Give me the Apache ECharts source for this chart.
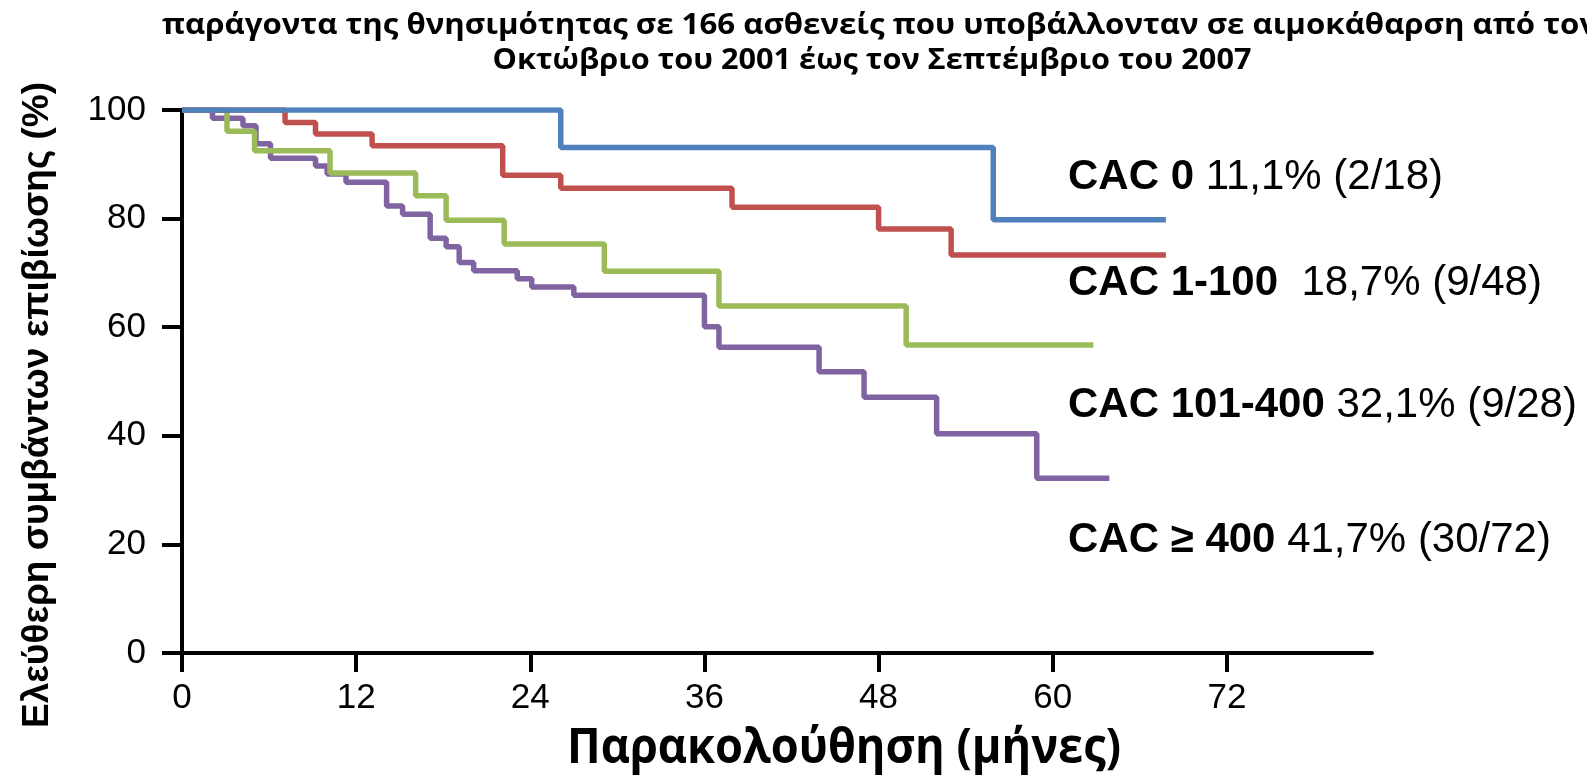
<!DOCTYPE html>
<html lang="el">
<head>
    <meta charset="UTF-8">
    <title>Επιβίωση ανά CAC</title>
    <script src="https://cdn.jsdelivr.net/npm/echarts@6/dist/echarts.min.js"></script>
    <style>
        *{
            margin: 0;
            padding: 0;
        }
        #chart{
            width: 1587px;
            height: 775px;
            background: #fff;
        }
    </style>
</head>
<body>
    <div id="chart"></div>
<script>
    // μήνες όπου πέφτει η καμπύλη (τελευταίο = τέλος παρακολούθησης) και επιβίωση % μετά την πτώση
    var cac0Months = [0, 26.1, 55.9, 67.8];
    var cac0Surv   = [100, 93.1, 79.8, 79.8];

    var cac1Months = [0, 7.1, 9.2, 13.1, 22.1, 26.1, 37.9, 48.0, 53.0, 67.8];
    var cac1Surv   = [100, 97.7, 95.6, 93.4, 88.0, 85.6, 82.1, 78.1, 73.3, 73.3];

    var cac2Months = [0, 3.1, 5.0, 10.2, 16.1, 18.2, 22.2, 29.1, 37.0, 49.9, 62.8];
    var cac2Surv   = [100, 96.1, 92.5, 88.4, 84.2, 79.7, 75.3, 70.3, 63.9, 56.7, 56.7];

    var cac3Months = [0, 2.1, 4.2, 5.1, 6.1, 9.2, 10.0, 11.3, 14.1, 15.2, 17.1, 18.2, 19.1, 20.1,
                      23.1, 24.1, 27.0, 36.0, 37.0, 43.9, 47.0, 52.0, 58.9, 63.9];
    var cac3Surv   = [100, 98.5, 97.1, 93.8, 91.1, 89.7, 88.2, 86.7, 82.3, 80.8, 76.4, 74.8, 71.9, 70.4,
                      68.9, 67.4, 65.9, 60.1, 56.3, 51.8, 47.1, 40.4, 32.2, 32.2];

    var xTicks = [0, 12, 24, 36, 48, 60, 72];

    var groupNames = ['CAC 0', 'CAC 1-100 ', 'CAC 101-400', 'CAC ≥ 400'];
    var groupStats = ['11,1% (2/18)', '18,7% (9/48)', '32,1% (9/28)', '41,7% (30/72)'];

    var titleLines = [
        'παράγοντα της θνησιμότητας σε 166 ασθενείς που υποβάλλονταν σε αιμοκάθαρση από τον',
        'Οκτώβριο του 2001 έως τον Σεπτέμβριο του 2007'
    ];
    var xName = 'Παρακολούθηση (μήνες)';
    var yName = 'Ελεύθερη συμβάντων επιβίωσης (%)';

    function pairs(xs, ys) {
        return xs.map(function (x, i) { return [x, ys[i]]; });
    }

    // πλάτος κειμένου για να "στενέψει" η γραμματοσειρά όπως στο πρωτότυπο
    var measureCtx = document.createElement('canvas').getContext('2d');
    function fitScale(text, font, width) {
        measureCtx.font = font;
        return width / measureCtx.measureText(text).width;
    }

    var arial = '"Liberation Sans", Arial, sans-serif';
    var titleFont = 'bold 28px "Open Sans"';
    var title1Scale = fitScale(titleLines[0], titleFont, 1436);
    var title2Scale = fitScale(titleLines[1], titleFont, 759);
    var xNameFont = 'bold 48px "Open Sans"';
    var xNameScale = fitScale(xName, xNameFont, 554);

    var chart = echarts.init(document.getElementById('chart'));

    function kmSeries(name, data, color) {
        return {
            name: name,
            type: 'line',
            step: 'end',
            data: data,
            symbol: 'none',
            lineStyle: { color: color, width: 5.5 },
            silent: true
        };
    }

    var annotY = [177, 283, 405, 540];

    var graphics = [
        {
            type: 'text', x: 162, y: 26, scaleX: title1Scale,
            style: { text: titleLines[0], font: titleFont, fill: '#000', align: 'left', verticalAlign: 'middle' }
        },
        {
            type: 'text', x: 872, y: 61, scaleX: title2Scale,
            style: { text: titleLines[1], font: titleFont, fill: '#000', align: 'center', verticalAlign: 'middle' }
        },
        {
            type: 'text', x: 844, y: 749, scaleX: xNameScale,
            style: { text: xName, font: xNameFont, fill: '#000', align: 'center', verticalAlign: 'middle' }
        },
        {
            type: 'text', x: 38, y: 405, rotation: Math.PI / 2,
            style: { text: yName, font: 'bold 37px ' + arial, fill: '#000', align: 'center', verticalAlign: 'middle' }
        }
    ];
    groupNames.forEach(function (g, i) {
        graphics.push({
            type: 'text', x: 1068, y: annotY[i],
            style: {
                text: '{b|' + g + '} ' + groupStats[i],
                fontFamily: arial,
                fontSize: 42,
                fill: '#000',
                verticalAlign: 'middle',
                rich: { b: { fontWeight: 'bold', fontSize: 42, fontFamily: arial, fill: '#000' } }
            }
        });
    });

    var option = {
        animation: false,
        backgroundColor: '#fff',
        grid: { left: 182, right: 215, top: 110, bottom: 122, containLabel: false },
        xAxis: {
            type: 'value',
            min: 0,
            max: 82,
            interval: 12,
            splitLine: { show: false },
            axisLine: { lineStyle: { color: '#000', width: 4 } },
            axisTick: { customValues: xTicks, length: 19, lineStyle: { color: '#000', width: 4 } },
            axisLabel: { customValues: xTicks, margin: 28, color: '#000', fontSize: 35, fontFamily: arial }
        },
        yAxis: {
            type: 'value',
            min: 0,
            max: 100,
            interval: 20,
            splitLine: { show: false },
            axisLine: { show: true, lineStyle: { color: '#000', width: 4 } },
            axisTick: { show: true, length: 20, lineStyle: { color: '#000', width: 4 } },
            axisLabel: { margin: 36, color: '#000', fontSize: 35, fontFamily: arial }
        },
        series: [
            kmSeries('CAC ≥ 400', pairs(cac3Months, cac3Surv), '#8064A2'),
            kmSeries('CAC 101-400', pairs(cac2Months, cac2Surv), '#9BBB59'),
            kmSeries('CAC 1-100', pairs(cac1Months, cac1Surv), '#C0504D'),
            kmSeries('CAC 0', pairs(cac0Months, cac0Surv), '#4F81BD')
        ],
        graphic: graphics
    };

    chart.setOption(option);
</script>
</body>
</html>
